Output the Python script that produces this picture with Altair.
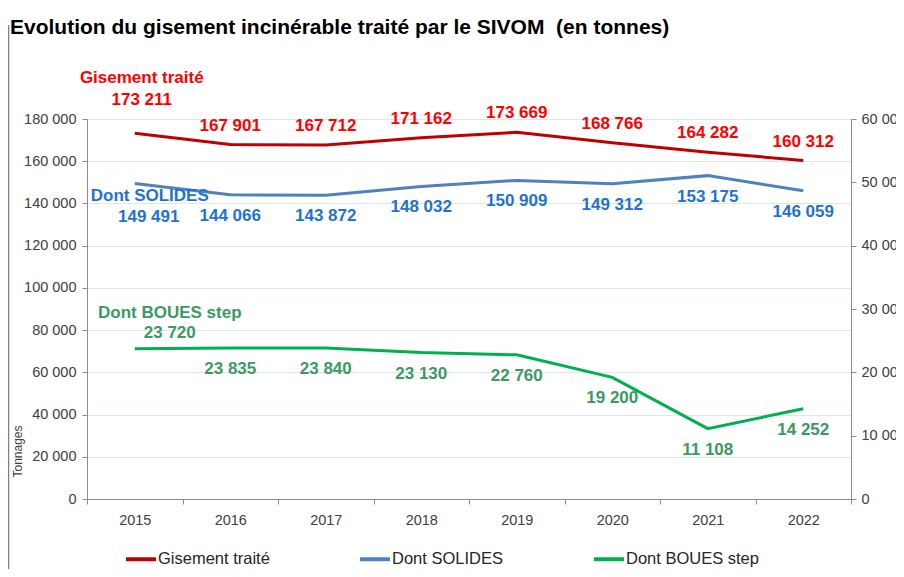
import altair as alt
import pandas as pd

years = ["2015", "2016", "2017", "2018", "2019", "2020", "2021", "2022"]
gisement = [173211, 167901, 167712, 171162, 173669, 168766, 164282, 160312]
solides = [149491, 144066, 143872, 148032, 150909, 149312, 153175, 146059]
boues = [23720, 23835, 23840, 23130, 22760, 19200, 11108, 14252]
series_names = ["Gisement traité", "Dont SOLIDES", "Dont BOUES step"]
line_colors = ["#C00000", "#4F81BD", "#00B050"]
label_colors = ["#FF0000", "#1F72CF", "#3A9A62"]
left_ticks = [0, 20000, 40000, 60000, 80000, 100000, 120000, 140000, 160000, 180000]
right_ticks = [0, 10000, 20000, 30000, 40000, 50000, 60000]
title_text = "Evolution du gisement incinérable traité par le SIVOM\u00a0 (en tonnes)"
FONT = "Liberation Sans"


def fmt(v):
    return f"{v:,}".replace(",", " ")


rows_left = []
for name, vals in ((series_names[0], gisement), (series_names[1], solides)):
    for y, v in zip(years, vals):
        rows_left.append({"year": y, "value": v, "series": name, "label": fmt(v)})
df_left = pd.DataFrame(rows_left)
df_right = pd.DataFrame({"year": years, "value": boues,
                         "series": series_names[2],
                         "label": [fmt(v) for v in boues]})

color_enc = alt.Color(
    "series:N",
    scale=alt.Scale(domain=series_names, range=line_colors),
    legend=alt.Legend(
        title=None, orient="none", legendX=37, legendY=423,
        direction="horizontal", columns=3, gridAlign="all", columnPadding=61,
        symbolType="stroke", symbolSize=900, symbolStrokeWidth=4,
        labelFont=FONT, labelFontSize=16.5, labelColor="#262626",
        labelOffset=0, padding=0, labelLimit=300,
    ),
)

x_enc = alt.X(
    "year:N", sort=years,
    scale=alt.Scale(type="band", domain=years, paddingInner=0, paddingOuter=0),
    axis=alt.Axis(title=None, tickBand="extent", labelAngle=0, tickSize=5,
                  labelPadding=9, labelFont=FONT, labelFontSize=14.5,
                  labelColor="#404040", domainColor="#8C8C8C",
                  tickColor="#8C8C8C", grid=False),
)

left_axis = alt.Axis(
    values=left_ticks, orient="left", title="Tonnages", grid=True,
    gridColor="#DCE6F2", gridWidth=1, tickSize=5, labelPadding=6,
    labelFont=FONT, labelFontSize=14.5, labelColor="#404040",
    domainColor="#8C8C8C", tickColor="#8C8C8C",
    labelExpr="replace(format(datum.value, ','), ',', ' ')",
    titleFont=FONT, titleFontSize=12, titleFontWeight="normal",
    titleColor="#404040", titleAngle=270, titleX=-70, titleY=332,
    titleAlign="center", titleBaseline="middle",
)
right_axis = alt.Axis(
    values=right_ticks, orient="right", title=None, grid=False,
    tickSize=5, labelPadding=5, labelFont=FONT, labelFontSize=14.5,
    labelColor="#404040", domainColor="#8C8C8C", tickColor="#8C8C8C",
    labelExpr="replace(format(datum.value, ','), ',', ' ')",
)

base_left = alt.Chart(df_left).encode(
    x=x_enc,
    y=alt.Y("value:Q", scale=alt.Scale(domain=[0, 180000], nice=False), axis=left_axis),
)
base_right = alt.Chart(df_right).encode(
    x=x_enc,
    y=alt.Y("value:Q", scale=alt.Scale(domain=[0, 60000], nice=False), axis=right_axis),
)

lbl = dict(font=FONT, fontSize=17, fontWeight="bold", baseline="middle", align="center")

first = f"datum.year == '{years[0]}'"
notfirst = f"datum.year != '{years[0]}'"

frame_line = alt.Chart(pd.DataFrame({"k": [0]})).mark_rule(
    color="#7F7F7F", strokeWidth=1.5
).encode(x=alt.value(-78.5), y=alt.value(-94), y2=alt.value(470))

left_layers = [
    frame_line,
    base_left.mark_line(strokeWidth=3).encode(color=color_enc),
    # Gisement labels
    base_left.transform_filter(f"datum.series == '{series_names[0]}' && {notfirst}")
    .mark_text(dy=-19, color=label_colors[0], **lbl).encode(text="label:N"),
    base_left.transform_filter(f"datum.series == '{series_names[0]}' && {first}")
    .mark_text(dy=-33, dx=7, color=label_colors[0], **lbl).encode(text="label:N"),
    base_left.transform_filter(f"datum.series == '{series_names[0]}' && {first}")
    .mark_text(dy=-55, dx=7, color=label_colors[0], **lbl).encode(text="series:N"),
    # Solides labels
    base_left.transform_filter(f"datum.series == '{series_names[1]}' && {notfirst}")
    .mark_text(dy=21, color=label_colors[1], **lbl).encode(text="label:N"),
    base_left.transform_filter(f"datum.series == '{series_names[1]}' && {first}")
    .mark_text(dy=34, dx=14, color=label_colors[1], **lbl).encode(text="label:N"),
    base_left.transform_filter(f"datum.series == '{series_names[1]}' && {first}")
    .mark_text(dy=13, dx=15, color=label_colors[1], **lbl).encode(text="series:N"),
]

right_layers = [
    base_right.mark_line(strokeWidth=3).encode(color=color_enc),
    base_right.transform_filter(notfirst)
    .mark_text(dy=21, color=label_colors[2], **lbl).encode(text="label:N"),
    base_right.transform_filter(first)
    .mark_text(dy=-16, dx=35, color=label_colors[2], **lbl).encode(text="label:N"),
    base_right.transform_filter(first)
    .mark_text(dy=-36, dx=35, color=label_colors[2], **lbl).encode(text="series:N"),
]

left = alt.layer(*left_layers)
right = alt.layer(*right_layers)

chart = (
    alt.layer(left, right)
    .resolve_scale(y="independent")
    .properties(
        width=764, height=380,
        autosize=alt.AutoSizeParams(type="none"),
        padding={"left": 79, "top": 111, "right": 45, "bottom": 70},
        title=alt.TitleParams(
            text=title_text, anchor="start", frame="group", orient="top",
            dx=-77, dy=18, font=FONT, fontSize=21, fontWeight="bold",
            color="#000000",
        ),
        background="white",
    )
    .configure_view(stroke=None)
)

chart.save("out.html", embed_options={"renderer": "svg", "actions": False})
